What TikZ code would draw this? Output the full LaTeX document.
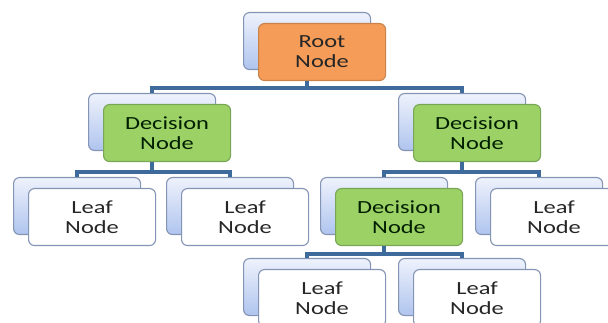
\documentclass[tikz,border=0pt]{standalone}
\usepackage{fontspec}
\setmainfont{Carlito}[FakeStretch=1.32]
\usetikzlibrary{calc}
\definecolor{backtop}{HTML}{EEF2FC}
\definecolor{backbot}{HTML}{AFC4EE}
\definecolor{boxline}{HTML}{8494B4}
\definecolor{rootfill}{HTML}{F59C58}
\definecolor{rootline}{HTML}{C9834A}
\definecolor{decfill}{HTML}{9CD166}
\definecolor{decline}{HTML}{78A656}
\definecolor{conncol}{HTML}{3F6A9C}
\tikzset{
  boxbase/.style={rounded corners=6pt, minimum width=127pt, minimum height=57pt,
    anchor=north west, inner sep=0pt, line width=1.1pt},
  backbox/.style={boxbase, draw=boxline, top color=backtop, bottom color=backbot},
  leafbox/.style={boxbase, draw=boxline, fill=white, align=center,
    font=\fontsize{18.5}{20}\selectfont, text=black!85},
  rootbox/.style={leafbox, draw=rootline, fill=rootfill},
  decbox/.style={leafbox, draw=decline, fill=decfill, text=black!80!green!60!black},
  conn/.style={draw=conncol, line width=3.4pt},
}
\begin{document}
\begin{tikzpicture}[x=1pt,y=-1pt]
\useasboundingbox (0,0) rectangle (608,323);
% stacked boxes: a shaded card behind, the labelled card in front
\newcommand{\cardpair}[5]{%
  \node[backbox] (#1b) at (#2,#3) {};
  \node[#4] (#1f) at (#2+15,#3+11) {#5};
}
\cardpair{root}{243}{12}{rootbox}{Root\\Node}
\cardpair{decl}{88}{93}{decbox}{Decision\\Node}
\cardpair{decr}{398}{93}{decbox}{Decision\\Node}
\cardpair{leafa}{13}{177}{leafbox}{Leaf\\Node}
\cardpair{leafb}{166}{177}{leafbox}{Leaf\\Node}
\cardpair{decm}{320}{177}{decbox}{Decision\\Node}
\cardpair{leafc}{475}{177}{leafbox}{Leaf\\Node}
\cardpair{leafd}{243}{258}{leafbox}{Leaf\\Node}
\cardpair{leafe}{398}{258}{leafbox}{Leaf\\Node}
% branch junctions below each parent
\coordinate (j0) at ($(rootb.south |- rootf.south)+(0,7)$);
\coordinate (j1) at ($(declb.south |- declf.south)+(0,10)$);
\coordinate (j2) at ($(decrb.south |- decrf.south)+(0,10)$);
\coordinate (j3) at ($(decmb.south |- decmf.south)+(0,8)$);
% connectors
\draw[conn] (rootb.south |- rootf.south) -- (j0) -| (declb.north);
\draw[conn] (j0) -| (decrb.north);
\draw[conn] (declb.south |- declf.south) -- (j1) -| (leafab.north);
\draw[conn] (j1) -| (leafbb.north);
\draw[conn] (decrb.south |- decrf.south) -- (j2) -| (decmb.north);
\draw[conn] (j2) -| (leafcb.north);
\draw[conn] (decmb.south |- decmf.south) -- (j3) -| (leafdb.north);
\draw[conn] (j3) -| (leafeb.north);
\end{tikzpicture}
\end{document}
